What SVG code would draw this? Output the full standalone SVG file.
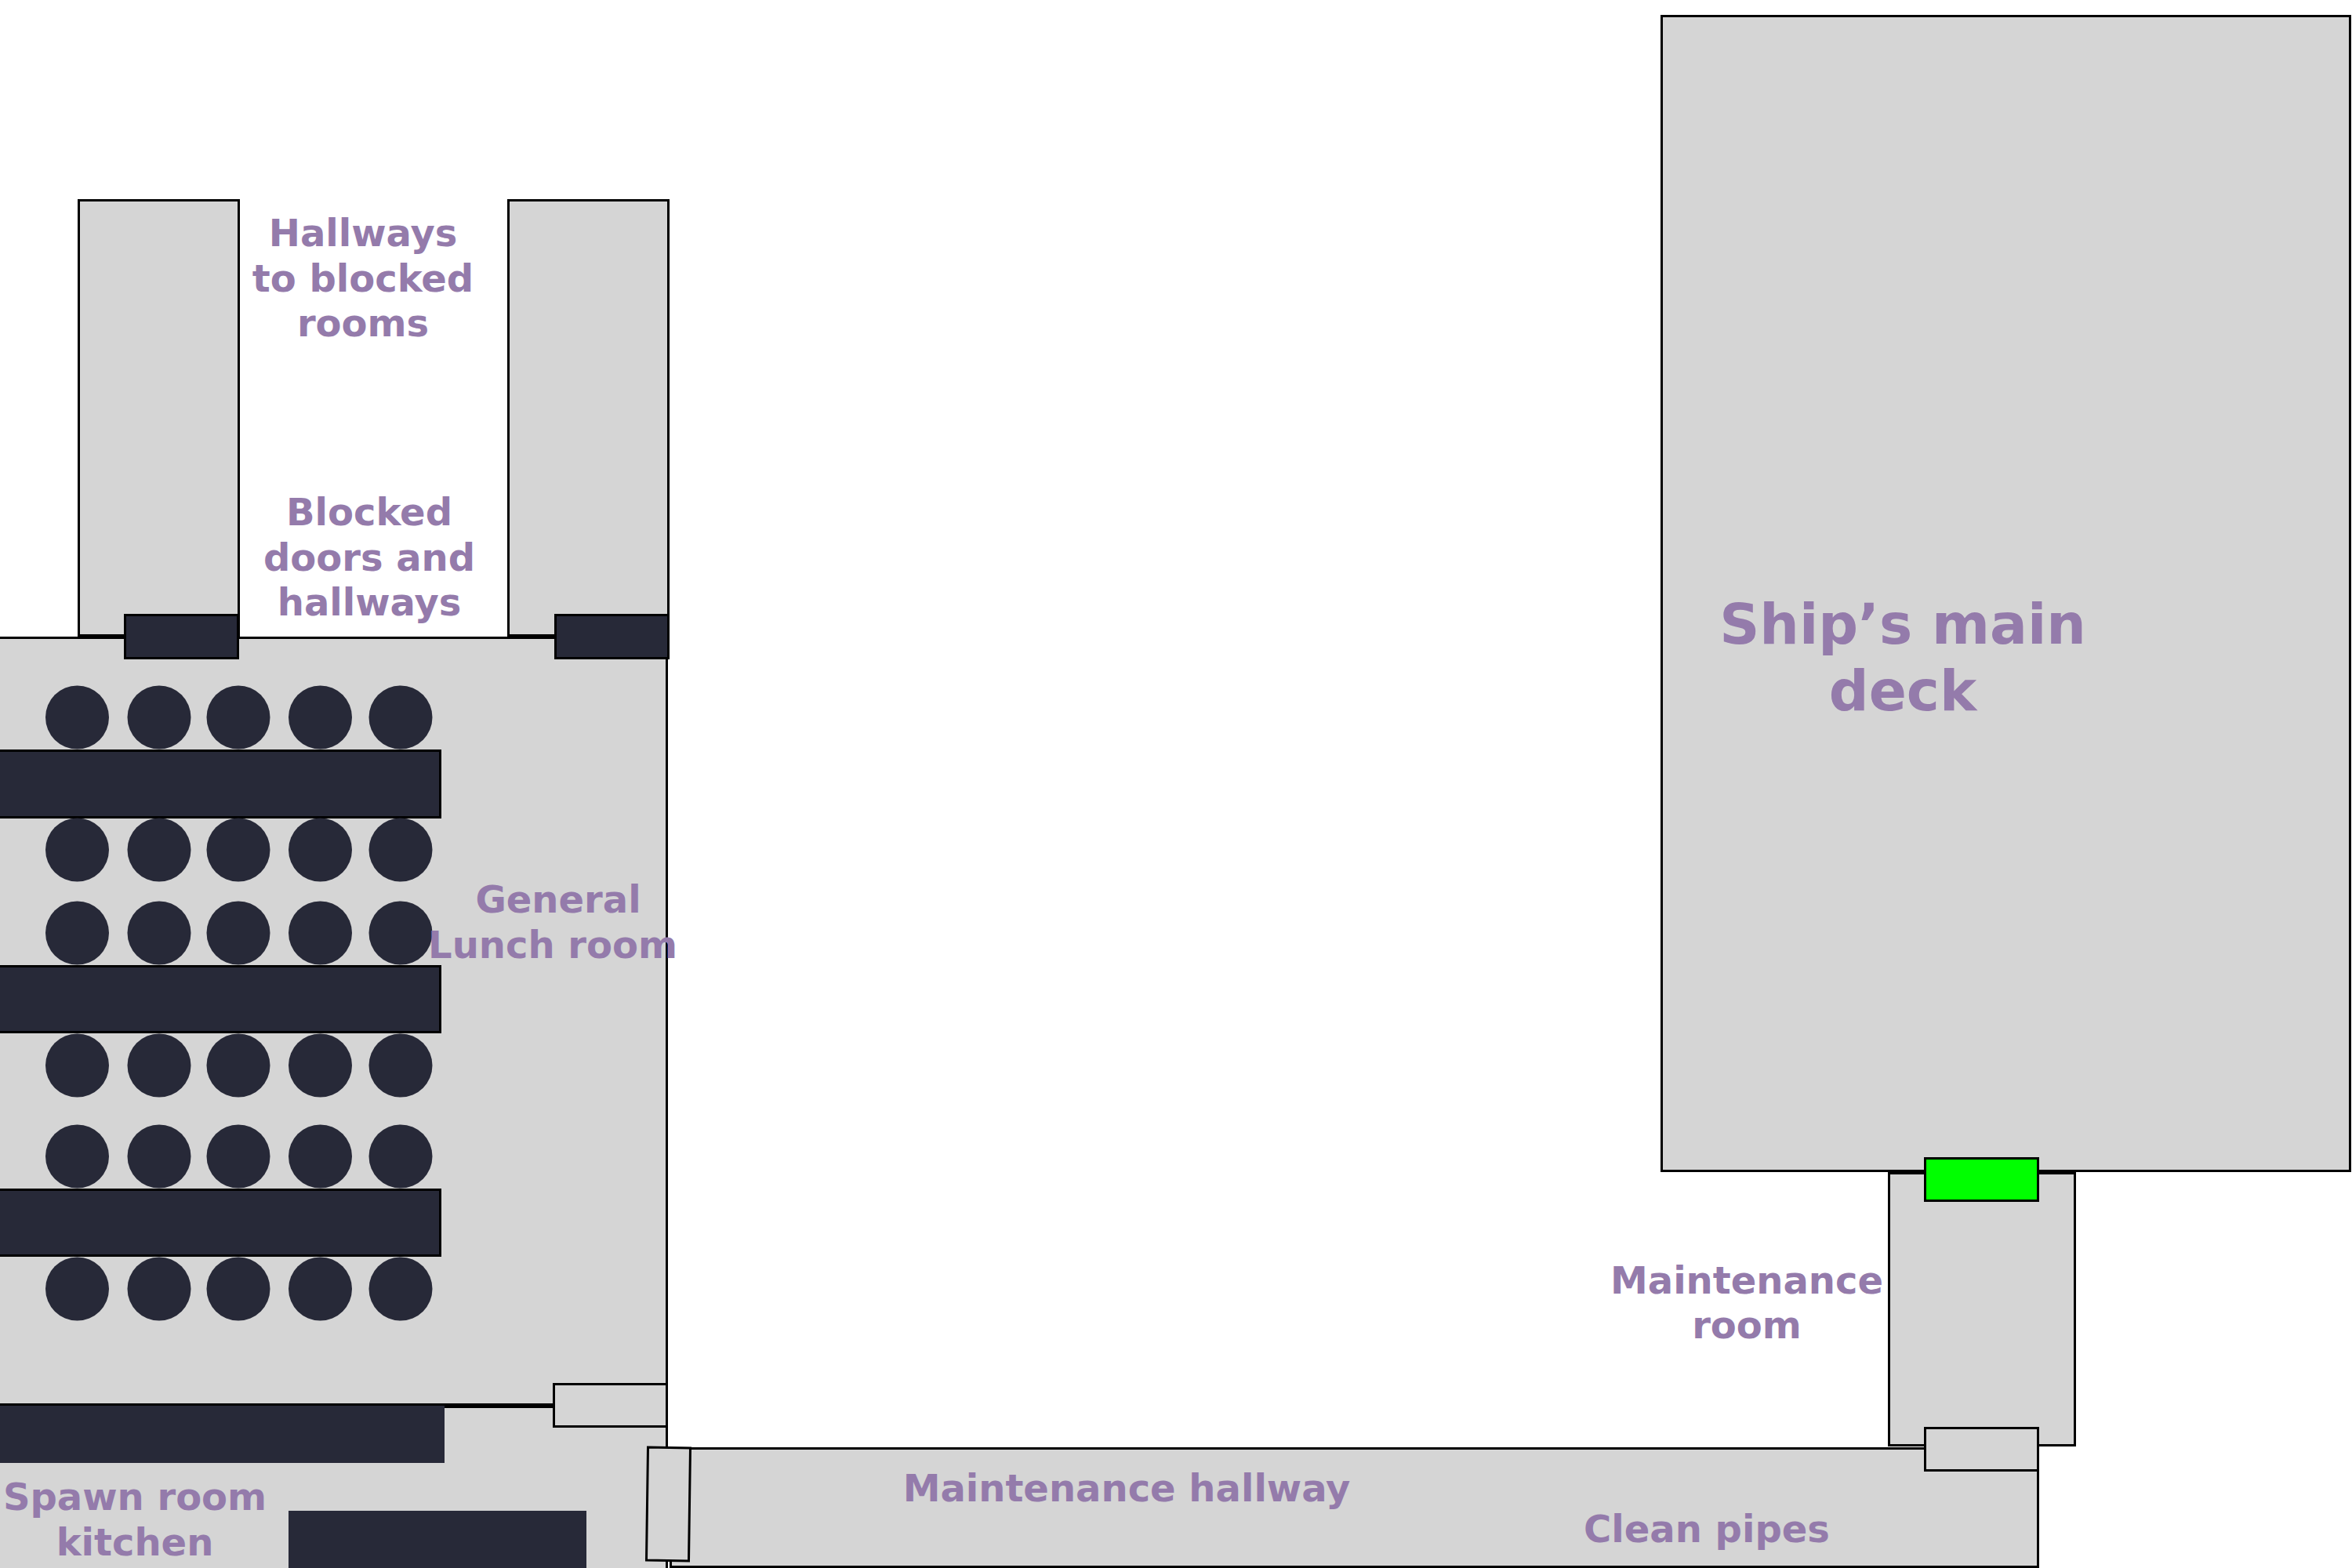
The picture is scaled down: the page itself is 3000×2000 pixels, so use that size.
<svg xmlns="http://www.w3.org/2000/svg" width="3000" height="2000" viewBox="0 0 3000 2000">
<style>
.r{fill:#d5d5d5;stroke:#000;stroke-width:3}
.d{fill:#272938;stroke:#000;stroke-width:3}
.t{fill:#272938}
.c{fill:#272938;stroke:none}
text{font-family:"DejaVu Sans",Verdana,sans-serif;font-weight:700;font-size:48px;fill:#947bab;text-anchor:middle}
.big{font-size:71px}
</style>
<rect width="3000" height="2000" fill="#fff"/>
<g id="deck"><rect class="r" x="2119.500" y="20.500" width="878" height="1473"/></g>
<g id="hall-left"><rect class="r" x="100.500" y="255.500" width="204" height="555"/></g>
<g id="hall-right"><rect class="r" x="648.500" y="255.500" width="204" height="555"/></g>
<g id="kitchen"><rect class="r" x="-10" y="1794.500" width="860.500" height="230"/></g>
<g id="lunch"><rect class="r" x="-10" y="813.500" width="860.500" height="978"/></g>
<g id="maint-room"><rect class="r" x="2409.500" y="1496.500" width="237" height="347"/></g>
<g id="maint-hall"><rect class="r" x="855.500" y="1847.500" width="1744" height="151"/></g>
<g id="door-blocked-left"><rect class="d" x="159.500" y="784.500" width="144" height="55"/></g>
<g id="door-blocked-right"><rect class="d" x="708.500" y="784.500" width="144" height="55"/></g>
<g id="door-lunch"><rect class="r" x="706.500" y="1765.500" width="144" height="54"/></g>
<g id="door-hall"><polygon class="r" points="826.500,1846 880.500,1847 878.500,1991 824.500,1990"/></g>
<g id="door-green"><rect x="2455.500" y="1477.500" width="144" height="54" fill="#0f0" stroke="#000" stroke-width="3"/></g>
<g id="door-maint"><rect class="r" x="2455.500" y="1821.500" width="144" height="54"/></g>
<g id="tables">
<rect class="d" x="-10" y="957.500" width="571.500" height="85"/>
<rect class="d" x="-10" y="1232.500" width="571.500" height="84"/>
<rect class="d" x="-10" y="1517.500" width="571.500" height="84"/>
<rect class="t" x="0" y="1793" width="567" height="73"/>
<rect class="t" x="368" y="1927" width="380" height="73"/>
</g>
<g id="chairs">
<g id="row1"><circle class="c" cx="98.500" cy="915" r="40.500"/><circle class="c" cx="203" cy="915" r="40.500"/><circle class="c" cx="304" cy="915" r="40.500"/><circle class="c" cx="408.500" cy="915" r="40.500"/><circle class="c" cx="511" cy="915" r="40.500"/></g>
<g id="row2"><circle class="c" cx="98.500" cy="1084" r="40.500"/><circle class="c" cx="203" cy="1084" r="40.500"/><circle class="c" cx="304" cy="1084" r="40.500"/><circle class="c" cx="408.500" cy="1084" r="40.500"/><circle class="c" cx="511" cy="1084" r="40.500"/></g>
<g id="row3"><circle class="c" cx="98.500" cy="1190" r="40.500"/><circle class="c" cx="203" cy="1190" r="40.500"/><circle class="c" cx="304" cy="1190" r="40.500"/><circle class="c" cx="408.500" cy="1190" r="40.500"/><circle class="c" cx="511" cy="1190" r="40.500"/></g>
<g id="row4"><circle class="c" cx="98.500" cy="1359" r="40.500"/><circle class="c" cx="203" cy="1359" r="40.500"/><circle class="c" cx="304" cy="1359" r="40.500"/><circle class="c" cx="408.500" cy="1359" r="40.500"/><circle class="c" cx="511" cy="1359" r="40.500"/></g>
<g id="row5"><circle class="c" cx="98.500" cy="1475" r="40.500"/><circle class="c" cx="203" cy="1475" r="40.500"/><circle class="c" cx="304" cy="1475" r="40.500"/><circle class="c" cx="408.500" cy="1475" r="40.500"/><circle class="c" cx="511" cy="1475" r="40.500"/></g>
<g id="row6"><circle class="c" cx="98.500" cy="1644" r="40.500"/><circle class="c" cx="203" cy="1644" r="40.500"/><circle class="c" cx="304" cy="1644" r="40.500"/><circle class="c" cx="408.500" cy="1644" r="40.500"/><circle class="c" cx="511" cy="1644" r="40.500"/></g>
</g>
<g id="labels">
<text x="463" y="314">Hallways</text><text x="463" y="372">to blocked</text><text x="463" y="429">rooms</text>
<text x="471" y="670">Blocked</text><text x="471" y="728">doors and</text><text x="471" y="785">hallways</text>
<text x="712" y="1164">General</text><text x="705" y="1222">Lunch room</text>
<text x="172" y="1926">Spawn room</text><text x="172" y="1984">kitchen</text>
<text x="1437" y="1915">Maintenance hallway</text>
<text x="2177" y="1967">Clean pipes</text>
<text x="2228" y="1650">Maintenance</text><text x="2228" y="1707">room</text>
<text class="big" x="2427" y="821">Ship’s main</text><text class="big" x="2427" y="906">deck</text>
</g>
</svg>
